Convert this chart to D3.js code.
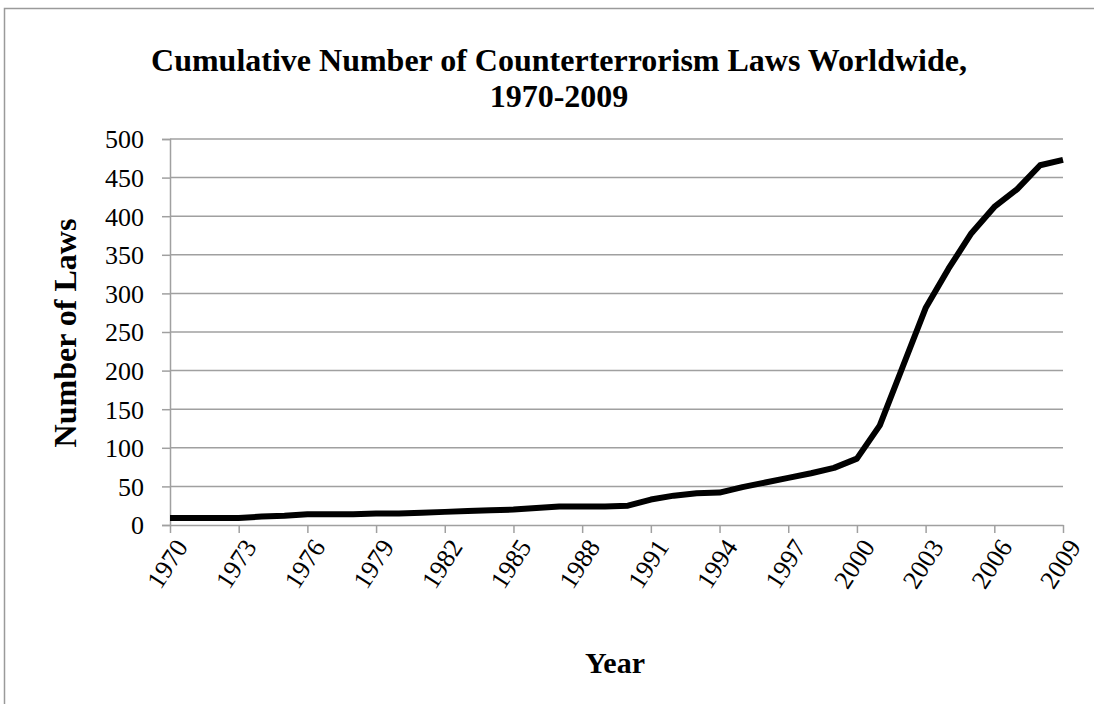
<!DOCTYPE html>
<html>
<head>
<meta charset="utf-8">
<script src="https://cdn.jsdelivr.net/npm/d3@7"></script>
<style>
  html, body { margin: 0; padding: 0; background: #fff; }
  svg { display: block; }
</style>
</head>
<body>
<svg id="chart" width="1094" height="704"></svg>
<script>
// Cumulative counterterrorism laws per year
const years = d3.range(1970, 2010);
const laws = [
  9, 9, 9, 9, 11, 12, 14, 14, 14, 15,
  15, 16, 17, 18, 19, 20, 22, 24, 24, 24,
  25, 33, 38, 41, 42, 49, 55, 61, 67, 74,
  86, 129, 205, 281, 332, 378, 412, 435, 466, 473
];
const yTicks = [0, 50, 100, 150, 200, 250, 300, 350, 400, 450, 500];
const xTickYears = d3.range(1970, 2010, 3);
const titleLines = ["Cumulative Number of Counterterrorism Laws Worldwide,", "1970-2009"];
const xTitle = "Year";
const yTitle = "Number of Laws";

const svg = d3.select("#chart");
const W = 1094, H = 704;
const plot = { left: 170, right: 1063, top: 139, bottom: 525 };
const grid = "#a0a0a0";
const serifBold = "'Liberation Serif', 'Times New Roman', serif";
const tickFont = "'Liberation Serif', serif";

// outer frame
svg.append("rect")
  .attr("x", 4.5).attr("y", 8.5)
  .attr("width", W + 20).attr("height", H + 20)
  .attr("fill", "#fff").attr("stroke", "#9a9a9a").attr("stroke-width", 1.5);

const x = d3.scalePoint().domain(years).range([plot.left, plot.right]);
const y = d3.scaleLinear().domain([0, 500]).range([plot.bottom, plot.top]);

// horizontal gridlines
svg.append("g").selectAll("line")
  .data(yTicks.filter(v => v > 0))
  .join("line")
  .attr("x1", plot.left).attr("x2", plot.right)
  .attr("y1", d => y(d)).attr("y2", d => y(d))
  .attr("stroke", grid).attr("stroke-width", 1.5);

// y axis
const yAxis = svg.append("g")
  .attr("transform", `translate(${plot.left},0)`)
  .call(d3.axisLeft(y).tickValues(yTicks).tickSize(8).tickPadding(18));
yAxis.select(".domain").attr("stroke", grid).attr("stroke-width", 1.5);
yAxis.selectAll(".tick line").attr("stroke", grid).attr("stroke-width", 1.5);
yAxis.selectAll(".tick text")
  .attr("font-family", tickFont).attr("font-size", 26).attr("fill", "#000")
  .attr("dy", "0.34em");

// x axis
const xAxis = svg.append("g")
  .attr("transform", `translate(0,${plot.bottom})`)
  .call(d3.axisBottom(x).tickValues(xTickYears).tickSize(8).tickSizeOuter(0).tickFormat(d3.format("d")));
xAxis.select(".domain").attr("stroke", grid).attr("stroke-width", 1.5);
xAxis.selectAll(".tick line").attr("stroke", grid).attr("stroke-width", 1.5);
xAxis.selectAll(".tick text")
  .attr("font-family", tickFont).attr("font-size", 26).attr("fill", "#000")
  .attr("text-anchor", "end")
  .attr("dy", "0.34em")
  .attr("transform", "translate(11,17) rotate(-57)")
  .attr("y", 0).attr("x", 0);

// line series
const line = d3.line()
  .x((d, i) => x(years[i]))
  .y(d => y(d));
svg.append("path")
  .datum(laws)
  .attr("d", line)
  .attr("fill", "none")
  .attr("stroke", "#000")
  .attr("stroke-width", 6)
  .attr("stroke-linejoin", "round");

// titles
svg.append("g").selectAll("text")
  .data(titleLines)
  .join("text")
  .attr("x", 559).attr("y", (d, i) => 71 + i * 36)
  .attr("text-anchor", "middle")
  .attr("font-family", serifBold).attr("font-weight", "bold").attr("font-size", 32)
  .text(d => d);

svg.append("text")
  .attr("x", 615).attr("y", 673)
  .attr("text-anchor", "middle")
  .attr("font-family", serifBold).attr("font-weight", "bold").attr("font-size", 30)
  .text(xTitle);

svg.append("text")
  .attr("transform", "translate(76,333) rotate(-90)")
  .attr("text-anchor", "middle")
  .attr("font-family", serifBold).attr("font-weight", "bold").attr("font-size", 32)
  .text(yTitle);
</script>
</body>
</html>
